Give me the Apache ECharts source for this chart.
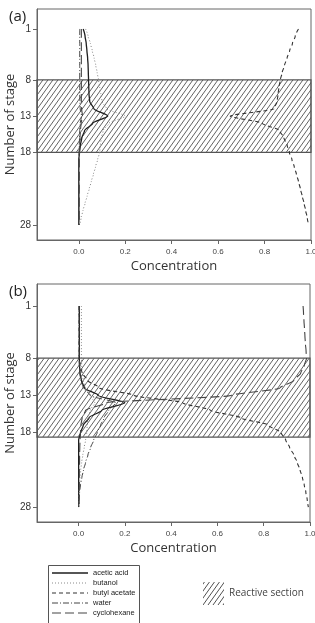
<!DOCTYPE html>
<html><head><meta charset="utf-8">
<script src="https://cdn.jsdelivr.net/npm/echarts@6/dist/echarts.min.js"></script>
<style>html,body{margin:0;padding:0;background:#fff}#c{width:315px;height:623px}</style>
</head><body><div id="c"></div>
<script>
// ---- data ----
var stages = [1,2,3,4,5,6,7,8,9,10,11,12,13,14,15,16,17,18,19,20,21,22,23,24,25,26,27,28];
var stageTicks = [1,8,13,18,28];
var concTicks = [0,0.2,0.4,0.6,0.8,1.0];
var seriesNames = ['acetic acid','butanol','butyl acetate','water','cyclohexane'];
var reactiveA = [8,18];
var reactiveB = [8,18.6];

var aAcetic = [0.019,0.027,0.032,0.035,0.038,0.040,0.041,0.042,0.043,0.044,0.047,0.065,0.125,0.060,0.025,0.013,0.007,0.003,0,0,0,0,0,0,0,0,0,0];
var aButanol = [0.029,0.040,0.050,0.058,0.066,0.073,0.079,0.085,0.090,0.095,0.100,0.120,0.200,0.130,0.105,0.097,0.093,0.090,0.081,0.072,0.063,0.054,0.045,0.036,0.027,0.018,0.010,0.003];
var aButylAcetate = [0.946,0.932,0.920,0.908,0.897,0.886,0.876,0.868,0.862,0.858,0.854,0.840,0.652,0.790,0.865,0.883,0.897,0.907,0.918,0.928,0.937,0.946,0.954,0.962,0.970,0.977,0.984,0.990];
var aWater = [0.004,0.004,0.004,0.004,0.004,0.004,0.004,0.004,0.004,0.004,0.005,0.006,0.012,0.006,0.004,0.003,0.002,0.001,0,0,0,0,0,0,0,0,0,0];
var aCyclohexane = [0.011,0.011,0.011,0.011,0.011,0.011,0.011,0.011,0.011,0.011,0.011,0.012,0.016,0.010,0.007,0.005,0.004,0.003,0.002,0.002,0.002,0.002,0.002,0.002,0.002,0.002,0.002,0.002];

var bAcetic = [0.003,0.003,0.003,0.003,0.003,0.003,0.003,0.003,0.004,0.006,0.012,0.025,0.085,0.200,0.100,0.045,0.020,0.008,0,0,0,0,0,0,0,0,0,0];
var bButanol = [0.012,0.012,0.012,0.012,0.012,0.012,0.012,0.012,0.013,0.015,0.020,0.030,0.050,0.070,0.050,0.040,0.037,0.035,0.030,0.024,0.018,0.013,0.009,0.006,0.004,0.002,0.001,0];
var bButylAcetate = [0.002,0.002,0.002,0.002,0.002,0.002,0.002,0.002,0.006,0.015,0.040,0.090,0.240,0.450,0.570,0.700,0.820,0.875,0.895,0.912,0.930,0.945,0.957,0.967,0.975,0.982,0.988,0.993];
var bWater = [0.002,0.002,0.002,0.002,0.002,0.002,0.002,0.002,0.003,0.005,0.010,0.020,0.050,0.160,0.130,0.110,0.095,0.080,0.065,0.052,0.040,0.030,0.021,0.014,0.008,0.004,0.002,0];
var bCyclohexane = [0.970,0.972,0.974,0.976,0.978,0.980,0.983,0.985,0.975,0.960,0.930,0.870,0.660,0.120,0.030,0.015,0.010,0.008,0.006,0.005,0.004,0.004,0.003,0.003,0.003,0.002,0.002,0.002];

// ---- hatch pattern ----
function hatchCanvas(w, h, tw, th, color, lw) {
  var c = document.createElement('canvas'); c.width = w; c.height = h;
  var g = c.getContext('2d'); g.strokeStyle = color; g.lineWidth = lw;
  for (var k = -Math.ceil(h / th) * 2 - 2; k < Math.ceil(w / tw) + Math.ceil(h/th)*2 + 2; k++) {
    g.beginPath();
    var x0 = k * tw, y0 = h;
    g.moveTo(x0, y0); g.lineTo(x0 + h * tw / th, 0);
    g.stroke();
  }
  return c;
}
var tile = hatchCanvas(5, 7, 5, 7, '#505050', 0.9);
var iconCanvas = hatchCanvas(21, 23, 5, 7, '#505050', 1);
var hatch = { image: tile, repeat: 'repeat' };

var styles = {
  'acetic acid':   { type: 'solid', dash: [], color: '#1e1e1e', width: 1.3 },
  'butanol':       { type: [1, 2], dash: [1, 2], color: '#8a8a8a', width: 1 },
  'butyl acetate': { type: [4, 3], dash: [4, 3], color: '#333333', width: 1.1 },
  'water':         { type: [6, 2, 1, 2], dash: [6, 2, 1, 2], color: '#444444', width: 1 },
  'cyclohexane':   { type: [9, 4], dash: [9, 4], color: '#444444', width: 1.1 }
};
function lineIcon(st) {
  var c = document.createElement('canvas'); c.width = 36; c.height = 8;
  var g = c.getContext('2d'); g.strokeStyle = st.color; g.lineWidth = st.width;
  g.setLineDash(st.dash); g.beginPath(); g.moveTo(0, 4); g.lineTo(36, 4); g.stroke();
  return 'image://' + c.toDataURL();
}

function mk(name, vals, idx) {
  var st = styles[name];
  return {
    name: name, type: 'line', xAxisIndex: idx, yAxisIndex: idx,
    data: vals.map(function (v, i) { return [v, stages[i]]; }),
    symbol: 'none', smooth: 0.25, smoothMonotone: 'y',
    lineStyle: { type: st.type, color: st.color, width: st.width },
    itemStyle: { color: st.color }, z: 5
  };
}
function reactive(range, idx) {
  return {
    name: 'Reactive section', type: 'line', xAxisIndex: idx, yAxisIndex: idx, data: [],
    itemStyle: { color: '#666' }, z: 2,
    markArea: { silent: true,
      itemStyle: { color: hatch, borderColor: '#555', borderWidth: 1.2 },
      data: [[{ yAxis: range[0] }, { yAxis: range[1] }]] }
  };
}

var series = [reactive(reactiveA, 0), reactive(reactiveB, 1)];
[aAcetic, aButanol, aButylAcetate, aWater, aCyclohexane].forEach(function (v, i) { series.push(mk(seriesNames[i], v, 0)); });
[bAcetic, bButanol, bButylAcetate, bWater, bCyclohexane].forEach(function (v, i) { series.push(mk(seriesNames[i], v, 1)); });

function xAx(idx) {
  return { type: 'value', gridIndex: idx, min: -0.18, max: 1.0,
    name: 'Concentration', nameLocation: 'middle', nameGap: 20, nameMoveOverlap: false,
    nameTextStyle: { fontSize: 13, color: '#333', fontFamily: 'Open Sans' },
    axisLine: { show: true, onZero: false, lineStyle: { color: '#666' } },
    axisTick: { show: true, length: 4, customValues: concTicks, lineStyle: { color: '#666' } },
    axisLabel: { customValues: concTicks, fontSize: 8, color: '#444', margin: 8, fontFamily: 'Liberation Sans Narrow, Liberation Sans',
      formatter: function (v) { return v.toFixed(1); } },
    splitLine: { show: false } };
}
function yAx(idx, mn, mx) {
  return { type: 'value', gridIndex: idx, inverse: true, min: mn, max: mx,
    name: 'Number of stage', nameLocation: 'middle', nameGap: 20, nameMoveOverlap: false,
    nameTextStyle: { fontSize: 13, color: '#333', fontFamily: 'Open Sans' },
    axisLine: { show: true, onZero: false, lineStyle: { color: '#666' } },
    axisTick: { show: true, length: 4, customValues: stageTicks, lineStyle: { color: '#666' } },
    axisLabel: { customValues: stageTicks, fontSize: 10, color: '#333', margin: 6, fontFamily: 'Liberation Sans' },
    splitLine: { show: false } };
}

var chart = echarts.init(document.getElementById('c'), null, { renderer: 'canvas' });
chart.setOption({
  animation: false,
  backgroundColor: '#fff',
  title: [
    { text: '(a)', left: 4, top: 4, textStyle: { fontSize: 15, fontWeight: 'normal', color: '#222', fontFamily: 'Open Sans' } },
    { text: '(b)', left: 4, top: 279, textStyle: { fontSize: 15, fontWeight: 'normal', color: '#222', fontFamily: 'Open Sans' } }
  ],
  grid: [
    { left: 37, top: 9, width: 274, height: 231, show: true, borderColor: '#666', borderWidth: 1, outerBoundsMode: 'none' },
    { left: 37, top: 284, width: 273, height: 238, show: true, borderColor: '#666', borderWidth: 1, outerBoundsMode: 'none' }
  ],
  xAxis: [xAx(0), xAx(1)],
  yAxis: [yAx(0, -1.75, 30.07), yAx(1, -1.96, 30.0)],
  legend: [
    { data: seriesNames.map(function (n) { return { name: n, icon: lineIcon(styles[n]) }; }),
      orient: 'vertical', left: 48, top: 563,
      itemWidth: 36, itemHeight: 8, itemGap: 2, padding: [6, 8, 2, 4], selectedMode: false,
      textStyle: { fontSize: 7.5, color: '#222', fontFamily: 'Liberation Sans Narrow, Liberation Sans' } },
    { data: [{ name: 'Reactive section', icon: 'image://' + iconCanvas.toDataURL() }],
      left: 198, top: 577, itemWidth: 21, itemHeight: 23, selectedMode: false,
      textStyle: { fontSize: 10, color: '#444', fontFamily: 'Open Sans' } }
  ],
  graphic: [
    { type: 'rect', left: 46, top: 563, shape: { width: 91, height: 80 }, silent: true,
      style: { fill: 'none', stroke: '#555', lineWidth: 1 } }
  ],
  series: series
});
</script></body></html>
